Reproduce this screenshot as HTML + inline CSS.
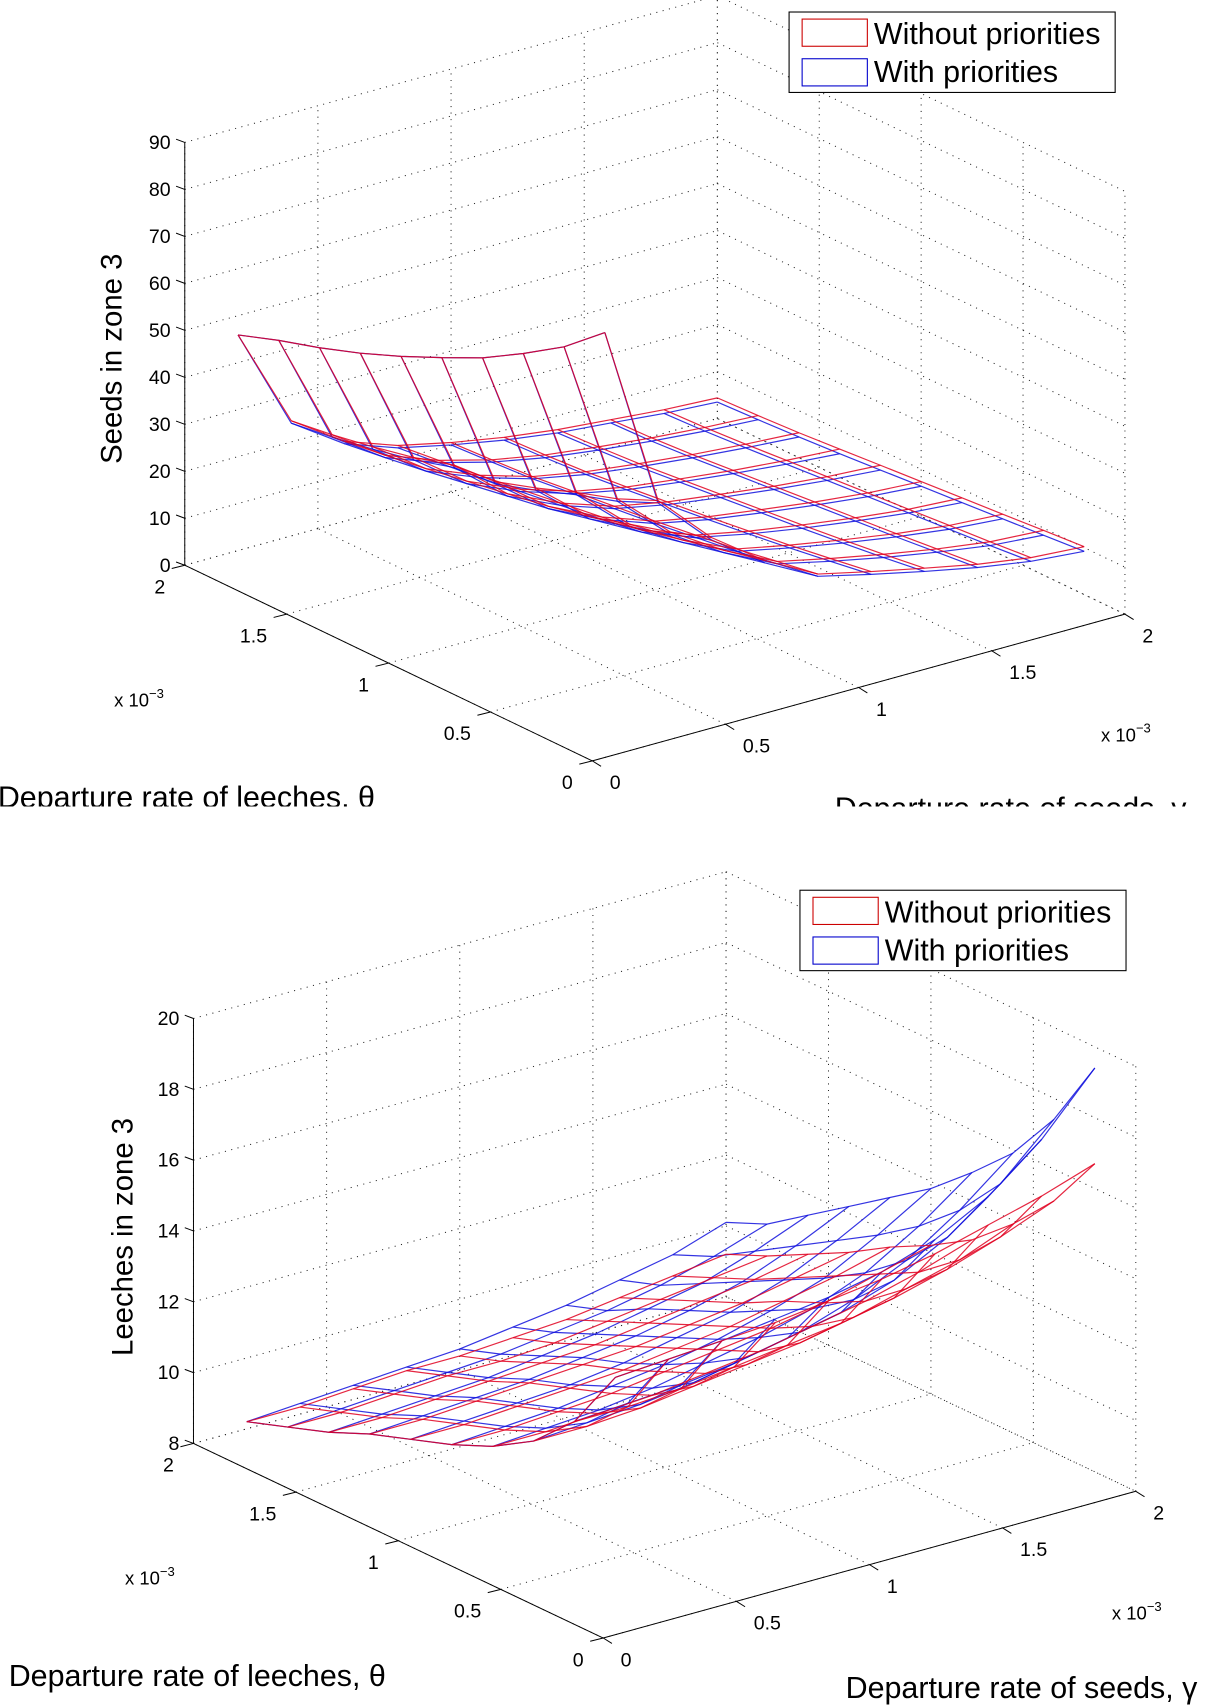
<!DOCTYPE html>
<html><head><meta charset="utf-8">
<style>
html,body{margin:0;padding:0;background:#fff;}
svg{display:block;}
text{font-family:"Liberation Sans",Arial,sans-serif;fill:#000;}
</style></head>
<body>
<svg id="fig" width="1207" height="1706" viewBox="0 0 1110.5 1569.5" xmlns="http://www.w3.org/2000/svg">
<defs><clipPath id="clipTop"><rect x="0" y="0" width="1110.5" height="742"/></clipPath></defs>
<g id="plot1" clip-path="url(#clipTop)"></g>
<g id="plot2"></g>
</svg>
<script>
// Grid values (x 10^-3)
const thetaVals = [0.2,0.4,0.6,0.8,1.0,1.2,1.4,1.6,1.8,2.0];
const gammaVals = [0.2,0.4,0.6,0.8,1.0,1.2,1.4,1.6,1.8,2.0];
const xyTicks = [0,0.5,1,1.5,2];
const xyTickLabels = ["0","0.5","1","1.5","2"];
const seedsZTicks = [0,10,20,30,40,50,60,70,80,90];
const leechesZTicks = [8,10,12,14,16,18,20];
// Seeds in zone 3: rows = theta, cols = gamma
const seedsWithout = [
 [83.9,45,34,26,20,17.4,15,12.7,11,10.2],
 [76.7,41.2,31,24,18.5,16,13.8,11.8,10.2,9.5],
 [71.1,38.4,28.5,22,17,14.7,12.7,10.9,9.5,8.8],
 [66,35.2,26,20,15.8,13.5,11.7,10.1,8.8,8.1],
 [61.9,32.4,24,18.6,14.6,12.4,10.8,9.3,8.1,7.4],
 [58,31.7,22.5,17.4,13.6,11.4,9.9,8.5,7.4,6.7],
 [54.5,29.2,21,16.2,12.6,10.4,9,7.7,6.7,6],
 [51.5,27.3,19.5,15,11.6,9.5,8.1,6.9,6,5.3],
 [48.9,25.7,18.2,14,11,8.9,7.5,6.3,5.4,4.8],
 [45.9,24.5,17,13,10.5,8.5,7,6,5,4.4]
];
const seedsWith = [
 [83.9,44.5,33.5,25.5,19.5,16.8,14.3,12,10.2,9.2],
 [76.7,40.7,30.5,23.5,18,15.4,13.1,11.1,9.4,8.5],
 [71.1,37.9,28,21.5,16.5,14.1,12,10.2,8.7,7.8],
 [66,34.7,25.5,19.5,15.3,12.9,11,9.4,8,7.1],
 [61.9,31.9,23.5,18.1,14.1,11.8,10.1,8.6,7.3,6.4],
 [58,31.2,22,16.9,13.1,10.8,9.2,7.8,6.6,5.7],
 [54.5,28.7,20.5,15.7,12.1,9.8,8.3,7,5.9,5],
 [51.5,26.8,19,14.5,11.1,8.9,7.4,6.2,5.2,4.4],
 [48.9,25.2,17.7,13.5,10.5,8.3,6.8,5.6,4.6,3.9],
 [45.9,24,16.5,12.5,10,7.9,6.3,5.3,4.2,3.5]
];
// Leeches in zone 3
const leechesWithout = [
 [14.4,14.5,14.6,14.7,14.9,15.1,15.4,15.8,16.2,16.7],
 [12.6,12.6,12.7,12.9,13.1,13.3,13.6,14.0,14.5,15.1],
 [11.5,11.5,11.6,11.8,12.0,12.2,12.5,12.9,13.3,13.9],
 [10.8,10.8,10.9,11.0,11.2,11.4,11.7,12.0,12.4,12.9],
 [10.3,10.3,10.4,10.5,10.7,10.9,11.1,11.4,11.8,12.2],
 [9.9,9.9,10.0,10.1,10.2,10.4,10.6,10.9,11.2,11.6],
 [9.5,9.5,9.6,9.7,9.8,9.9,10.1,10.3,10.6,10.9],
 [9.0,9.0,9.1,9.2,9.3,9.4,9.6,9.8,10.0,10.3],
 [8.6,8.6,8.7,8.8,8.8,8.9,9.1,9.3,9.5,9.7],
 [8.2,8.2,8.3,8.4,8.4,8.5,8.6,8.8,9.0,9.2]
];
const leechesWith = [
 [14.4,14.5,14.6,14.8,15.0,15.3,15.8,16.6,17.8,19.4],
 [12.6,12.7,12.8,13.0,13.3,13.6,14.1,14.9,16.0,17.4],
 [11.5,11.6,11.7,11.9,12.2,12.5,13.0,13.7,14.7,15.9],
 [10.8,10.9,11.0,11.2,11.5,11.8,12.2,12.8,13.7,14.8],
 [10.3,10.4,10.5,10.7,10.9,11.2,11.6,12.1,12.9,13.8],
 [9.9,10.0,10.1,10.2,10.4,10.7,11.0,11.5,12.2,13.0],
 [9.5,9.6,9.7,9.8,10.0,10.2,10.5,10.9,11.5,12.2],
 [9.0,9.1,9.2,9.3,9.5,9.7,10.0,10.3,10.8,11.4],
 [8.6,8.7,8.8,8.9,9.0,9.2,9.4,9.7,10.1,10.6],
 [8.2,8.3,8.4,8.5,8.6,8.8,9.0,9.3,9.6,10.1]
];

const NS="http://www.w3.org/2000/svg";
function mk(parent,tag,attrs){const e=document.createElementNS(NS,tag);for(const k in attrs)e.setAttribute(k,attrs[k]);parent.appendChild(e);return e;}

function drawPlot(g,cfg){
  const zmin=cfg.zmin,zmax=cfg.zmax;
  function P(t,gm,z){
    const a=t/2,b=gm/2,c=(z-zmin)/(zmax-zmin);
    return [cfg.O[0]+a*cfg.T[0]+b*cfg.G[0], cfg.O[1]+a*cfg.T[1]+b*cfg.G[1]+c*cfg.Zh];
  }
  function line(p,q,style,name){
    const l=mk(g,'line',{x1:p[0],y1:p[1],x2:q[0],y2:q[1],stroke:style.c||'#000','stroke-width':style.w||0.8});
    if(style.d)l.setAttribute('stroke-dasharray',style.d);
    
    
  }
  const dot={c:'#222',w:0.9,d:'1 5'};
  xyTicks.forEach(v=>{
    line(P(v,0,zmin),P(v,2,zmin),dot,'floor-grid-line');
    line(P(0,v,zmin),P(2,v,zmin),dot,'floor-grid-line');
    line(P(2,v,zmin),P(2,v,zmax),dot,'back-wall-grid-line');
    line(P(v,2,zmin),P(v,2,zmax),dot,'side-wall-grid-line');
  });
  cfg.zticks.forEach(z=>{
    line(P(2,0,z),P(2,2,z),dot,'back-wall-grid-line');
    line(P(2,2,z),P(0,2,z),dot,'side-wall-grid-line');
  });
  const solid={c:'#000',w:0.9};
  line(P(2,0,zmin),P(2,0,zmax),solid,'z-axis');
  line(P(0,0,zmin),P(2,0,zmin),solid,'theta-axis');
  line(P(0,0,zmin),P(0,2,zmin),solid,'gamma-axis');
  cfg.zticks.forEach(z=>{
    const p=P(2,0,z);
    line(p,[p[0]-8,p[1]-3],solid,'z-tick');
    const t=mk(g,'text',{x:p[0]-13,y:p[1]+6,'font-size':18,'text-anchor':'end'});
    t.textContent=String(z);
    
    
  });
  xyTicks.forEach((v,i)=>{
    const p=P(v,0,zmin);
    line(p,[p[0]-12,p[1]+3],solid,'theta-tick');
    const t=mk(g,'text',{x:p[0]-18,y:p[1]+26,'font-size':18,'text-anchor':'end'});
    t.textContent=xyTickLabels[i];
    
    
    const q=P(0,v,zmin);
    line(q,[q[0]+8,q[1]+5],solid,'gamma-tick');
    const u=mk(g,'text',{x:q[0]+16,y:q[1]+26,'font-size':18,'text-anchor':'start'});
    u.textContent=xyTickLabels[i];
    
    
  });
  function mesh(data,color,name){
    const sg=mk(g,'g',{});
    
    
    const n=thetaVals.length,m=gammaVals.length;
    for(let i=0;i<n;i++){
      let d='';
      for(let j=0;j<m;j++){const p=P(thetaVals[i],gammaVals[j],data[i][j]);d+=(j?'L':'M')+p[0].toFixed(1)+' '+p[1].toFixed(1);}
      const pa=mk(sg,'path',{d:d,fill:'none',stroke:color,'stroke-width':1.1,'stroke-opacity':0.85});
      
      
    }
    for(let j=0;j<m;j++){
      let d='';
      for(let i=0;i<n;i++){const p=P(thetaVals[i],gammaVals[j],data[i][j]);d+=(i?'L':'M')+p[0].toFixed(1)+' '+p[1].toFixed(1);}
      const pa=mk(sg,'path',{d:d,fill:'none',stroke:color,'stroke-width':1.1,'stroke-opacity':0.85});
      
      
    }
  }
  mesh(cfg.with,'#1010dd','surface-with-priorities');
  mesh(cfg.without,'#e00020','surface-without-priorities');
}

drawPlot(document.getElementById('plot1'),{O:[545,700],T:[-375,-180],G:[490,-135],Zh:-389,zmin:0,zmax:90,zticks:seedsZTicks,without:seedsWithout,with:seedsWith});
drawPlot(document.getElementById('plot2'),{O:[555,1507],T:[-377,-179],G:[490,-135],Zh:-391,zmin:8,zmax:20,zticks:leechesZTicks,without:leechesWithout,with:leechesWith});
</script>
<script>
(function(){
const NS="http://www.w3.org/2000/svg";
function txt(parentId,x,y,size,str,name,extra){
  const g=document.getElementById(parentId);
  const t=document.createElementNS(NS,'text');
  t.setAttribute('x',x);t.setAttribute('y',y);t.setAttribute('font-size',size);
  if(extra)for(const k in extra)t.setAttribute(k,extra[k]);
  t.textContent=str;
  
  
  g.appendChild(t);return t;
}
function legend(parentId,x,y){
  const g=document.getElementById(parentId);
  const lg=document.createElementNS(NS,'g');
  
  
  g.appendChild(lg);
  lg.innerHTML='<rect x="'+x+'" y="'+y+'" width="300" height="74" fill="#fff" stroke="#000" stroke-width="1"/>'+
   '<rect x="'+(x+12)+'" y="'+(y+6.5)+'" width="60" height="25" fill="none" stroke="#c00" stroke-width="1"/>'+
   '<rect x="'+(x+12)+'" y="'+(y+43)+'" width="60" height="25" fill="none" stroke="#00c" stroke-width="1"/>'+
   '<text x="'+(x+78)+'" y="'+(y+29.5)+'" font-size="28">Without priorities</text>'+
   '<text x="'+(x+78)+'" y="'+(y+64.5)+'" font-size="28">With priorities</text>';
}
txt('plot1',-2,743,28,'Departure rate of leeches, θ','theta-axis-title');
txt('plot1',768,753,28,'Departure rate of seeds, γ','gamma-axis-title');
txt('plot1',105,650,17,'x 10','theta-exponent').innerHTML='x 10<tspan dy="-8" font-size="12">−3</tspan>';
txt('plot1',1013,682,17,'x 10','gamma-exponent').innerHTML='x 10<tspan dy="-8" font-size="12">−3</tspan>';
txt('plot1',0,0,27,'Seeds in zone 3','z-axis-title',{transform:'translate(112,330) rotate(-90)','text-anchor':'middle'});
legend('plot1',726,11);
txt('plot2',8,1551,28,'Departure rate of leeches, θ','theta-axis-title');
txt('plot2',778,1562,28,'Departure rate of seeds, γ','gamma-axis-title');
txt('plot2',115,1458,17,'x 10','theta-exponent').innerHTML='x 10<tspan dy="-8" font-size="12">−3</tspan>';
txt('plot2',1023,1490,17,'x 10','gamma-exponent').innerHTML='x 10<tspan dy="-8" font-size="12">−3</tspan>';
txt('plot2',0,0,27,'Leeches in zone 3','z-axis-title',{transform:'translate(122,1138) rotate(-90)','text-anchor':'middle'});
legend('plot2',736,819);
})();
</script>
</body></html>
